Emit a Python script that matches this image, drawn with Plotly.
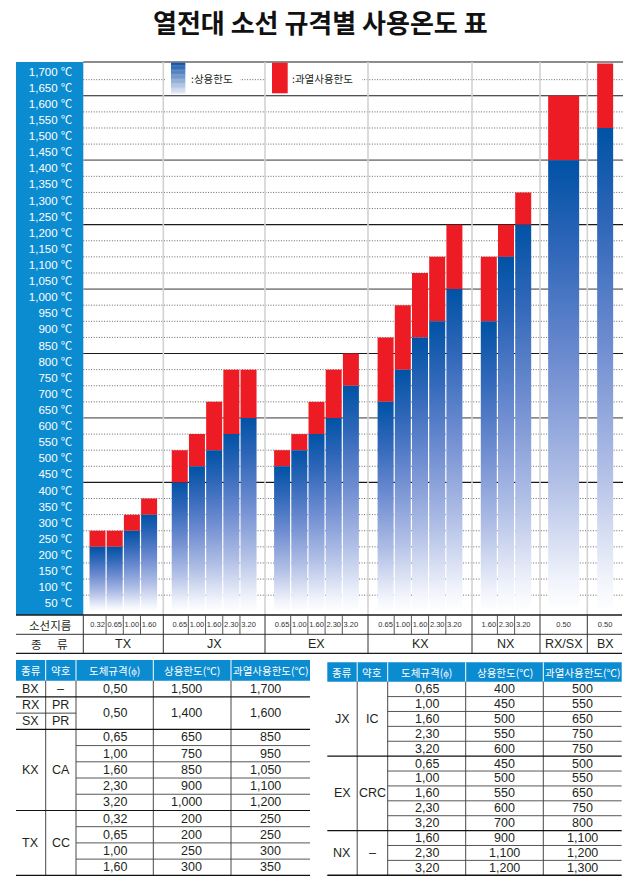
import plotly.graph_objects as go

# the page's default 8px body margin is removed in post_script, so the
# figure fills the 640x892 window exactly
OFF = 0
W, H = 640 - OFF, 892 - OFF

# ---------------- chart data ----------------
group_names = ["TX", "JX", "EX", "KX", "NX", "RX/SX", "BX"]
bar_group = (["TX"] * 4 + ["JX"] * 5 + ["EX"] * 5 + ["KX"] * 5 + ["NX"] * 3
             + ["RX/SX", "BX"])
bar_diameter = ["0.32", "0.65", "1.00", "1.60",
                "0.65", "1.00", "1.60", "2.30", "3.20",
                "0.65", "1.00", "1.60", "2.30", "3.20",
                "0.65", "1.00", "1.60", "2.30", "3.20",
                "1.60", "2.30", "3.20",
                "0.50", "0.50"]
use_limit = [200, 200, 250, 300,
             400, 450, 500, 550, 600,
             450, 500, 550, 600, 700,
             650, 750, 850, 900, 1000,
             900, 1100, 1200,
             1400, 1500]
overheat_limit = [250, 250, 300, 350,
                  500, 550, 650, 750, 750,
                  500, 550, 650, 750, 800,
                  850, 950, 1050, 1100, 1200,
                  1100, 1200, 1300,
                  1600, 1700]
y_tick_values = list(range(50, 1701, 50))

title_text = "열전대 소선 규격별 사용온도 표"
legend_use = ":상용한도"
legend_over = ":과열사용한도"
row_label_diameter = "소선지름"
row_label_kind = "종      류"

# ---------------- table data ----------------
table_header = ["종류", "약호", "도체규격(ϕ)", "상용한도(℃)", "과열사용한도(℃)"]

left_kind = ["BX", "RX", "SX", "KX", "TX"]
left_code = ["–", "PR", "PR", "CA", "CC"]
left_kind_rows = [1, 1, 1, 5, 4]
left_diameter = ["0,50", "0,50", "0,65", "1,00", "1,60", "2,30", "3,20",
                 "0,32", "0,65", "1,00", "1,60"]
left_use = ["1,500", "1,400", "650", "750", "850", "900", "1,000",
            "200", "200", "250", "300"]
left_overheat = ["1,700", "1,600", "850", "950", "1,050", "1,100", "1,200",
                 "250", "250", "300", "350"]
left_value_rows = [1, 2, 1, 1, 1, 1, 1, 1, 1, 1, 1]

right_kind = ["JX", "EX", "NX"]
right_code = ["IC", "CRC", "–"]
right_kind_rows = [5, 5, 3]
right_diameter = ["0,65", "1,00", "1,60", "2,30", "3,20",
                  "0,65", "1,00", "1,60", "2,30", "3,20",
                  "1,60", "2,30", "3,20"]
right_use = ["400", "450", "500", "550", "600",
             "450", "500", "550", "600", "700",
             "900", "1,100", "1,200"]
right_overheat = ["500", "550", "650", "750", "750",
                  "500", "550", "650", "750", "800",
                  "1,100", "1,200", "1,300"]
right_value_rows = [1] * 13

# ---------------- layout / style (screen pixels) ----------------
PLOT_L, PLOT_R, PLOT_T, PLOT_B = 83.3, 623.0, 62.0, 615.0
Y_MIN, Y_MAX = -11.5, 1704.8
group_edges = [83.3, 163.3, 265.0, 368.0, 472.0, 540.0, 587.3, 623.0]
BAR_PITCH = 17.2
BAR_W = 16.0
WIDE_BAR = {"RX/SX": 31.0}

BLUE_PANEL = "#0b8bd0"
RED = "#ed1c24"
BLUE_SCALE = [[0.0, "#ffffff"], [0.07, "#f0f3fb"], [0.3, "#aebde5"],
              [0.55, "#6f8dd1"], [0.8, "#3067b9"], [1.0, "#0052a5"]]
KR = "Noto Sans CJK KR"
LAT = "Liberation Sans, Arial, Noto Sans CJK KR"
NARROW = "Liberation Sans Narrow, Arial Narrow, Liberation Sans"
TXT = "#231f20"


def X(px):
    return (px - OFF) / W


def Y(py):
    return 1 - (py - OFF) / H


# bar positions from group layout
centers, widths, cell_edges = [], [], []
for gi, g in enumerate(group_names):
    n = sum(1 for b in bar_group if b == g)
    c = (group_edges[gi] + group_edges[gi + 1]) / 2
    cs = [c + (k - (n - 1) / 2) * BAR_PITCH for k in range(n)]
    centers += cs
    widths += [WIDE_BAR.get(g, BAR_W)] * n
    cell_edges += [(cs[k] + cs[k + 1]) / 2 for k in range(n - 1)]

fig = go.Figure()
for xc, w, u in zip(centers, widths, use_limit):
    fig.add_trace(go.Scatter(
        x=[xc - w / 2, xc + w / 2, xc + w / 2, xc - w / 2, xc - w / 2],
        y=[0, 0, u, u, 0], mode="lines",
        line=dict(width=0, color="rgba(0,0,0,0)"),
        fill="toself", fillcolor="#4f78c4",
        fillgradient=dict(type="vertical", colorscale=BLUE_SCALE),
        hoverinfo="skip", showlegend=False))
fig.add_trace(go.Bar(
    x=centers, y=[o - u for o, u in zip(overheat_limit, use_limit)],
    base=use_limit, width=widths,
    marker=dict(color=RED, line=dict(width=0)),
    hoverinfo="skip", showlegend=False))

shapes = []
annotations = []


def hline(y, x0, x1, color, width, dash=None, layer="below"):
    shapes.append(dict(type="line", xref="paper", yref="paper",
                       x0=X(x0), x1=X(x1), y0=Y(y), y1=Y(y), layer=layer,
                       line=dict(color=color, width=width, dash=dash)))


def vline(x, y0, y1, color, width, layer="below"):
    shapes.append(dict(type="line", xref="paper", yref="paper",
                       x0=X(x), x1=X(x), y0=Y(y0), y1=Y(y1), layer=layer,
                       line=dict(color=color, width=width)))


def rect(x0, y0, x1, y1, color, layer="below"):
    shapes.append(dict(type="rect", xref="paper", yref="paper",
                       x0=X(x0), x1=X(x1), y0=Y(y1), y1=Y(y0), layer=layer,
                       fillcolor=color, line=dict(width=0)))


def text(x, y, s, size, color=TXT, family=LAT, anchor="center", bold=False):
    annotations.append(dict(xref="paper", yref="paper", x=X(x), y=Y(y),
                            text=("<b>%s</b>" % s) if bold else s,
                            showarrow=False, xanchor=anchor, yanchor="middle",
                            font=dict(size=size, color=color, family=family)))


# blue y-label panel
rect(16, PLOT_T, PLOT_L, PLOT_B, BLUE_PANEL)

# gridlines (data y, through the y axis)
for v in range(50, 1651, 50):
    if v % 200 == 0 and v >= 400:
        if v % 400 == 0:
            ln = dict(color="#1a1a1a", width=1.1)
        else:
            ln = dict(color="#8c8c8c", width=1.8)
    else:
        ln = dict(color="#555555", width=0.9, dash="1px,1.6px")
    shapes.append(dict(type="line", xref="paper", yref="y",
                       x0=X(PLOT_L), x1=X(PLOT_R), y0=v, y1=v,
                       layer="below", line=ln))
# top border
hline(PLOT_T, PLOT_L, PLOT_R, "#1a1a1a", 1.2)
# group separators
for e in group_edges[1:-1]:
    shapes.append(dict(type="line", xref="x", yref="paper", x0=e, x1=e,
                       y0=Y(PLOT_B), y1=Y(PLOT_T), layer="below",
                       line=dict(color="#d2d2d2", width=1.6)))

# legend
rect(165, 63, 240, 94, "white")
rect(266, 63, 362, 94, "white")
top_c, bot_c = (0x14, 0x56, 0xa8), (0xe2, 0xe7, 0xf6)
NS = 24
for i in range(NS):
    t = i / (NS - 1)
    col = "rgb(%d,%d,%d)" % tuple(round(a + (b - a) * t) for a, b in zip(top_c, bot_c))
    y0 = 62.7 + (93.3 - 62.7) * i / NS
    y1 = 62.7 + (93.3 - 62.7) * (i + 1) / NS + 0.3
    rect(171, y0, 185.3, y1, col)
rect(272, 62.7, 287.7, 93.3, RED)
text(189, 78.5, legend_use, 10.5, family=KR, anchor="left")
text(290, 78.5, legend_over, 10.5, family=KR, anchor="left")

# bottom axis table
hline(PLOT_B, 16, 622, "#1a1a1a", 1.3, layer="above")
hline(634.3, 16, 622, "#333333", 1.0, layer="above")
hline(653.3, 16, 622, "#1a1a1a", 1.3, layer="above")
vline(PLOT_L, PLOT_B, 653.3, "#333333", 1.0, layer="above")
for e in group_edges[1:-1]:
    vline(e, PLOT_B, 653.3, "#333333", 1.0, layer="above")
for e in cell_edges:
    vline(e, PLOT_B, 634.3, "#444444", 0.9, layer="above")
for gi, g in enumerate(group_names):
    text((group_edges[gi] + group_edges[gi + 1]) / 2, 644.2, g, 12.5, family=NARROW)
text(49.5, 624.8, row_label_diameter, 11.5, family=KR)
text(49.5, 644.2, row_label_kind, 11.5, family=KR)

# title
text(320, 21, title_text, 26, color="#111111", family=KR, bold=True)


def draw_table(cols, head_y0, head_y1, row_h, kinds, codes, kind_rows,
               diam, use, over, value_rows, num_align):
    x_left, x_right = cols[0], cols[-1]
    rect(x_left, head_y0, x_right, head_y1, BLUE_PANEL)
    for c in cols[1:-1]:
        vline(c, head_y0, head_y1, "white", 1.0)
    for i, h in enumerate(table_header):
        text((cols[i] + cols[i + 1]) / 2, (head_y0 + head_y1) / 2 + 0.5, h, 10.5,
             color="white", family=KR)
    n_rows = sum(kind_rows)
    bottom = head_y1 + n_rows * row_h
    for c in cols[1:-1]:
        vline(c, head_y1, bottom, "#333333", 0.9)
    kind_b, r = set(), 0
    for k, code, nr in zip(kinds, codes, kind_rows):
        yc = head_y1 + (r + nr / 2) * row_h
        text((cols[0] + cols[1]) / 2, yc, k, 12.5)
        text((cols[1] + cols[2]) / 2, yc, code, 12.5)
        r += nr
        kind_b.add(r)
    val_b, r = set(), 0
    for d, u, o, nr in zip(diam, use, over, value_rows):
        yc = head_y1 + (r + nr / 2) * row_h
        text((cols[2] + cols[3]) / 2, yc, d, 12.5)
        if num_align == "right":
            text(cols[4] - 27, yc, u, 12.5, anchor="right")
            text(cols[5] - 27, yc, o, 12.5, anchor="right")
        else:
            text((cols[3] + cols[4]) / 2, yc, u, 12.5)
            text((cols[4] + cols[5]) / 2, yc, o, 12.5)
        r += nr
        val_b.add(r)
    for b in range(1, n_rows + 1):
        y = head_y1 + b * row_h
        if b in kind_b and b in val_b:
            hline(y, x_left, x_right, "#111111", 1.3 if b == n_rows else 1.1)
        elif b in kind_b:
            hline(y, x_left, cols[2], "#333333", 0.9)
        elif b in val_b:
            hline(y, cols[2], x_right, "#444444", 0.9)


draw_table([16, 45.7, 76, 153.3, 231, 310], 660, 680.7, 16.22,
           left_kind, left_code, left_kind_rows, left_diameter, left_use,
           left_overheat, left_value_rows, "right")
draw_table([327.3, 357.2, 387.7, 465.7, 543.3, 621.7], 662.3, 681.7, 14.89,
           right_kind, right_code, right_kind_rows, right_diameter, right_use,
           right_overheat, right_value_rows, "center")

fig.update_layout(
    width=W, height=H, margin=dict(l=0, r=0, t=0, b=0),
    paper_bgcolor="white", plot_bgcolor="white", showlegend=False,
    barmode="overlay",
    xaxis=dict(domain=[X(PLOT_L), X(PLOT_R)], range=[PLOT_L, PLOT_R],
               showgrid=False, zeroline=False, showline=False, fixedrange=True,
               tickmode="array", tickvals=centers, ticktext=bar_diameter,
               ticks="", tickangle=0, ticklabelstandoff=3,
               tickfont=dict(size=7.5, color="#333333", family=NARROW)),
    yaxis=dict(domain=[Y(PLOT_B), Y(PLOT_T)], range=[Y_MIN, Y_MAX],
               showgrid=False, zeroline=False, showline=False, fixedrange=True,
               tickmode="array", tickvals=[v - 25 for v in y_tick_values],
               ticktext=["{:,} ℃".format(v) for v in y_tick_values],
               ticks="", ticklabelstandoff=10,
               tickfont=dict(size=11.5, color="white", family=LAT)),
    shapes=shapes, annotations=annotations,
)

fig.write_html("out.html",
               config={"displayModeBar": False, "staticPlot": True},
               post_script="document.body.style.margin='0';"
                           "document.body.style.overflow='hidden';")
